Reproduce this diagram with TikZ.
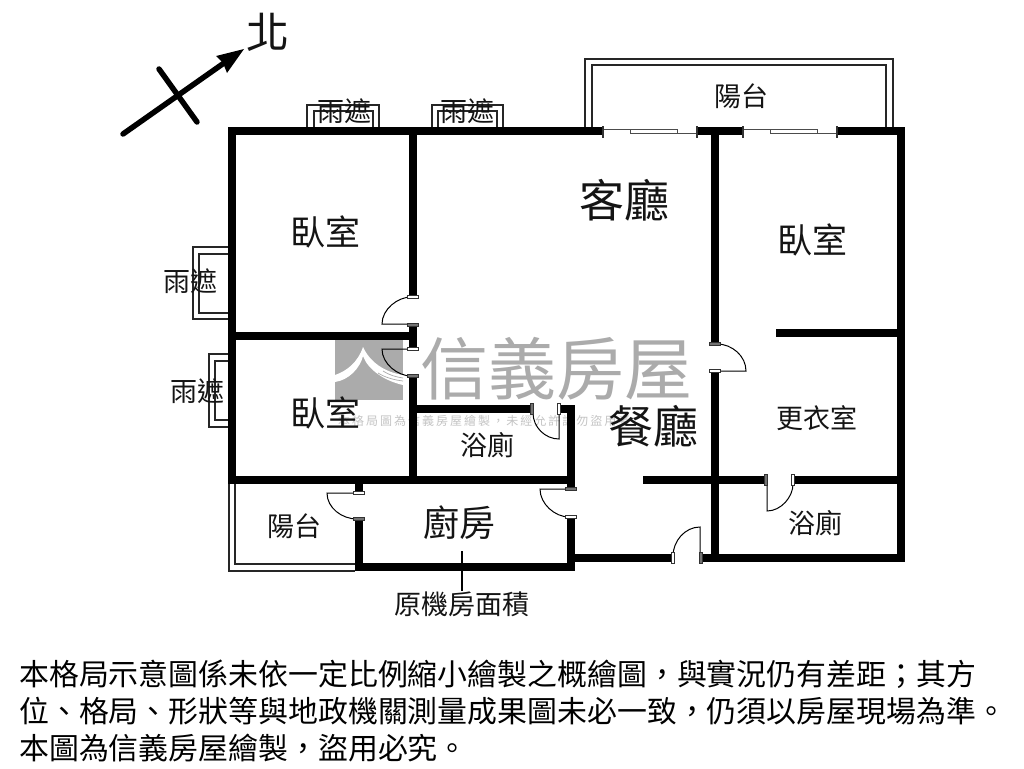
\documentclass[tikz,border=0pt]{standalone}
\usepackage{fontspec}
\setmainfont{Liberation Sans}
\newfontfamily\cjk{Noto Sans CJK TC}
\newfontfamily\cjkspaced[LetterSpace=16.7]{Noto Sans CJK TC}
\usetikzlibrary{arrows.meta}
\definecolor{wm}{HTML}{ABABAB}
\definecolor{wmtext}{HTML}{C4C4C4}
\tikzset{
  wall/.style={line width=8pt,line cap=butt,black},
  thin line/.style={line width=1.4pt,draw=black!85},
  door/.style={line width=1pt,black},
  jamb/.style={draw=black!80,fill=white,line width=.8pt},
  jambd/.style={draw=black!80,fill=black!55,line width=.8pt},
  lab/.style={font=\cjk\fontsize{#1pt}{#1pt}\selectfont,inner sep=0pt,text=black!92},
  note/.style={font=\cjk\fontsize{29.9pt}{37pt}\selectfont,inner sep=0pt,anchor=north west,align=left,text=black}
}
\newcommand{\jh}[3][jamb]{\draw[#1] (#2-5.5,#3-1.6) rectangle (#2+5.5,#3+1.6);}
\newcommand{\jv}[3][jamb]{\draw[#1] (#2-1.6,#3-5.5) rectangle (#2+1.6,#3+5.5);}
\begin{document}
\begin{tikzpicture}[x=1pt,y=-1pt]
\useasboundingbox (0,0) rectangle (1024,768);
\fill[white] (0,0) rectangle (1024,768);

% watermark
\fill[wm] (335,340) rectangle (403,400);
\fill[white] (363,347) .. controls (358,362) and (347,371) .. (335,375) -- (335,382) .. controls (349,380) and (360,368) .. (363,356)
  .. controls (368,370) and (385,381) .. (403,385) -- (403,375) .. controls (384,372) and (370,362) .. (363,347) -- cycle;
\draw[wm,line width=.7pt] (378,373) .. controls (386,378) and (395,380) .. (403,381);
\draw[wm,line width=.7pt] (383,371) .. controls (389,375) and (396,377) .. (403,378);
\node[font=\cjk\fontsize{68pt}{68pt}\selectfont,text=wm,inner sep=0pt] (wmname) at (556,369) {信義房屋};
\node[font=\cjkspaced\fontsize{12pt}{12pt}\selectfont,text=wmtext,inner sep=0pt,anchor=west] (wmnote) at (338,421) {本格局圖為信義房屋繪製，未經允許請勿盜用者};

% canopies
\draw[thin line] (307,127) |- (379,105) -- (379,127);
\draw[thin line] (314,127) |- (373,111) -- (373,127);
\draw[thin line] (432,127) |- (503,105) -- (503,127);
\draw[thin line] (438,127) |- (497,111) -- (497,127);
\draw[thin line] (228,247) -| (193,319) -- (228,319);
\draw[thin line] (228,254) -| (199,313) -- (228,313);
\draw[thin line] (228,354) -| (209,427) -- (228,427);
\draw[thin line] (228,361) -| (215,420) -- (228,420);

% balconies
\draw[thin line] (585,127) |- (893,59) -- (893,127);
\draw[thin line] (592,127) |- (886,65) -- (886,127);
\draw[thin line] (229,484) |- (355,571);
\draw[thin line] (235,484) |- (355,564);

% sliding doors
\draw[line width=1pt,black!70] (603,129) -- (677,129);
\draw[line width=1pt,black!70] (677,133) -- (697,133);
\draw[line width=1pt,black!70,fill=white] (630,129) rectangle (677,133);
\draw[line width=1pt,black!70] (743,129) -- (817,129);
\draw[line width=1pt,black!70] (817,133) -- (837,133);
\draw[line width=1pt,black!70,fill=white] (770,129) rectangle (817,133);

% walls
\draw[wall] (228,131) -- (603,131);
\draw[wall] (697,131) -- (743,131);
\draw[wall] (837,131) -- (905,131);
\draw[wall] (232,127) -- (232,484);
\draw[wall] (901,127) -- (901,562);
\draw[wall] (413,127) -- (413,297);
\draw[wall] (413,325) -- (413,348);
\draw[wall] (413,376) -- (413,484);
\draw[wall] (232,336) -- (413,336);
\draw[wall] (228,480) -- (575,480);
\draw[wall] (413,409) -- (532,409);
\draw[wall] (559,409) -- (575,409);
\draw[wall] (571,405) -- (571,489);
\draw[wall] (571,517) -- (571,571);
\draw[wall] (359,480) -- (359,492);
\draw[wall] (359,519) -- (359,571);
\draw[wall] (355,567) -- (575,567);
\draw[wall] (571,558) -- (673,558);
\draw[wall] (701,558) -- (905,558);
\draw[wall] (715,127) -- (715,344);
\draw[wall] (715,371) -- (715,562);
\draw[wall] (643,480) -- (766,480);
\draw[wall] (793,480) -- (905,480);
\draw[wall] (776,333) -- (905,333);

% sliding door stops
\foreach \px in {603,697,743,837} \draw[line width=1.4pt,black!80] (\px,126) -- (\px,138);

% hinged doors
\draw[door] (413,324) -- (382,324) .. controls (382,309) and (398,297) .. (411,297);
\draw[door] (413,349) -- (382,349) .. controls (382,364) and (398,376) .. (411,376);
\draw[door] (559,409) -- (559,439) .. controls (545,439) and (533,427) .. (533,413);
\draw[door] (359,493) -- (327,493) .. controls (327,508) and (342,519) .. (357,519);
\draw[door] (571,489) -- (540,489) .. controls (540,504) and (555,517) .. (569,517);
\draw[door] (715,371) -- (746,371) .. controls (746,356) and (732,344) .. (717,344);
\draw[door] (767,480) -- (767,511) .. controls (781,511) and (793,497) .. (793,484);
\draw[door] (700,558) -- (700,527) .. controls (685,527) and (673,541) .. (673,556);

\jh{413}{297}\jh[jambd]{413}{325}\jh{413}{349}\jh[jambd]{413}{376}
\jv[jambd]{532}{409}\jv{559}{409}
\jh{359}{493}\jh[jambd]{359}{519}
\jh[jambd]{571}{489}\jh{571}{517}
\jh[jambd]{715}{344}\jh{715}{371}
\jv[jambd]{766}{480}\jv{793}{480}
\jv{673}{558}\jv[jambd]{701}{558}

% north arrow
\draw[line width=5.5pt,line cap=round] (123,134) -- (224,63);
\draw[line width=5.5pt,line cap=round] (159,69) -- (197,122);
\fill (244,49) -- (216,56) -- (223,63) -- (227,73) -- cycle;
\node[lab=43] (north) at (268,32) {北};

% labels
\node[lab=45] (living) at (624,200) {客廳};
\node[lab=45] (dining) at (653,426) {餐廳};
\node[lab=35] (bedA) at (325,232) {臥室};
\node[lab=35] (bedB) at (812,240) {臥室};
\node[lab=35] (bedC) at (325,413) {臥室};
\node[lab=27] (canA) at (344,111) {雨遮};
\node[lab=27] (canB) at (467,111) {雨遮};
\node[lab=27] (canC) at (190,281) {雨遮};
\node[lab=27] (canD) at (197,391) {雨遮};
\node[lab=27] (balA) at (741,96) {陽台};
\node[lab=27] (balB) at (294,526) {陽台};
\node[lab=27] (closet) at (817,418) {更衣室};
\node[lab=27] (bathA) at (487,445) {浴廁};
\node[lab=27] (bathB) at (815,523) {浴廁};
\node[lab=36] (kitchen) at (459,523) {廚房};
\node[lab=27] (machine) at (462,604) {原機房面積};
\coordinate (leadtop) at (462,551);
\draw[line width=1.2pt] (leadtop) -- (machine.north);

% footnote
\node[note] (foot) at (19,660) {本格局示意圖係未依一定比例縮小繪製之概繪圖，與實況仍有差距；其方\\位、格局、形狀等與地政機關測量成果圖未必一致，仍須以房屋現場為準。\\本圖為信義房屋繪製，盜用必究。};
\end{tikzpicture}
\end{document}
